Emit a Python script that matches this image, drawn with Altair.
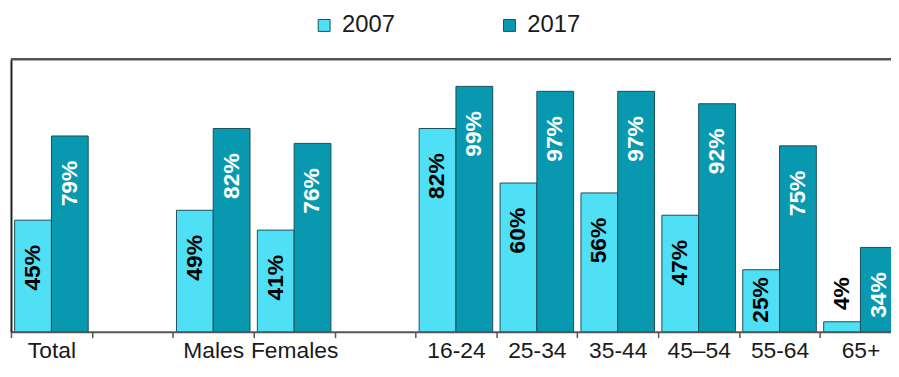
import altair as alt
import pandas as pd

categories = ["Total", "Males", "Females", "16-24", "25-34", "35-44", "45–54", "55-64", "65+"]
axis_order = ["Total", " ", "Males", "Females", "  ", "16-24", "25-34", "35-44", "45–54", "55-64", "65+"]
years = ["2007", "2017"]
v2007 = [45, 49, 41, 82, 60, 56, 47, 25, 4]
v2017 = [79, 82, 76, 99, 97, 97, 92, 75, 34]
colors = ["#4fe0f5", "#0899b0"]

rows = []
for c, a, b in zip(categories, v2007, v2017):
    rows.append({"cat": c, "year": "2007", "value": a})
    rows.append({"cat": c, "year": "2017", "value": b})
df = pd.DataFrame(rows)

W, H = 888, 275
FONT = "Liberation Sans"

x = alt.X(
    "cat:N",
    scale=alt.Scale(domain=axis_order, range=[0, 898], paddingInner=0, paddingOuter=0),
    axis=alt.Axis(
        title=None, labelAngle=0, labelFontSize=23, labelFont=FONT, labelColor="#1a1a1a",
        labelPadding=2, tickBand="extent", tickSize=6, tickColor="#555", tickWidth=1.5,
        domainColor="#555", domainWidth=2, grid=False,
    ),
)
xo = alt.XOffset("year:N", scale=alt.Scale(domain=years, paddingInner=0, paddingOuter=0.1))
y = alt.Y(
    "value:Q",
    scale=alt.Scale(domain=[0, 110], nice=False),
    axis=alt.Axis(title=None, labels=False, ticks=False, grid=False, domainColor="#222", domainWidth=2),
)

bars = alt.Chart(df).mark_bar(stroke="#1d4e5a", strokeWidth=1, clip=True).encode(
    x=x,
    xOffset=xo,
    y=y,
    color=alt.Color(
        "year:N",
        scale=alt.Scale(domain=years, range=colors),
        legend=alt.Legend(
            title=None, orient="none", legendX=304, legendY=-46, direction="horizontal",
            symbolType="square", symbolSize=144, symbolStrokeColor="#1d4e5a", symbolStrokeWidth=1,
            labelFontSize=24, labelFont=FONT, labelColor="#1a1a1a", labelOffset=6,
            columnPadding=103, padding=0,
        ),
    ),
)

labels = alt.Chart(df).transform_calculate(
    pos="max(datum.value, 32) - 10", txt="datum.value + '%'"
).mark_text(
    angle=270, align="right", baseline="middle", font=FONT, fontSize=23, fontWeight="bold"
).encode(
    x=x,
    xOffset=xo,
    y=alt.Y("pos:Q"),
    text="txt:N",
    color=alt.condition("datum.year == '2017'", alt.value("white"), alt.value("black")),
)

top = alt.Chart(alt.Data(values=[{}])).mark_rule(color="#555", strokeWidth=2.5).encode(
    x=alt.value(0), x2=alt.value(W), y=alt.value(0)
)

chart = alt.layer(bars, labels, top).properties(
    width=W, height=H,
    padding={"left": 3, "top": 50, "right": 0, "bottom": 31},
    autosize=alt.AutoSizeParams(type="none"),
).configure_view(stroke=None)

chart.save("out.html", embed_options={"renderer": "svg", "actions": False})
